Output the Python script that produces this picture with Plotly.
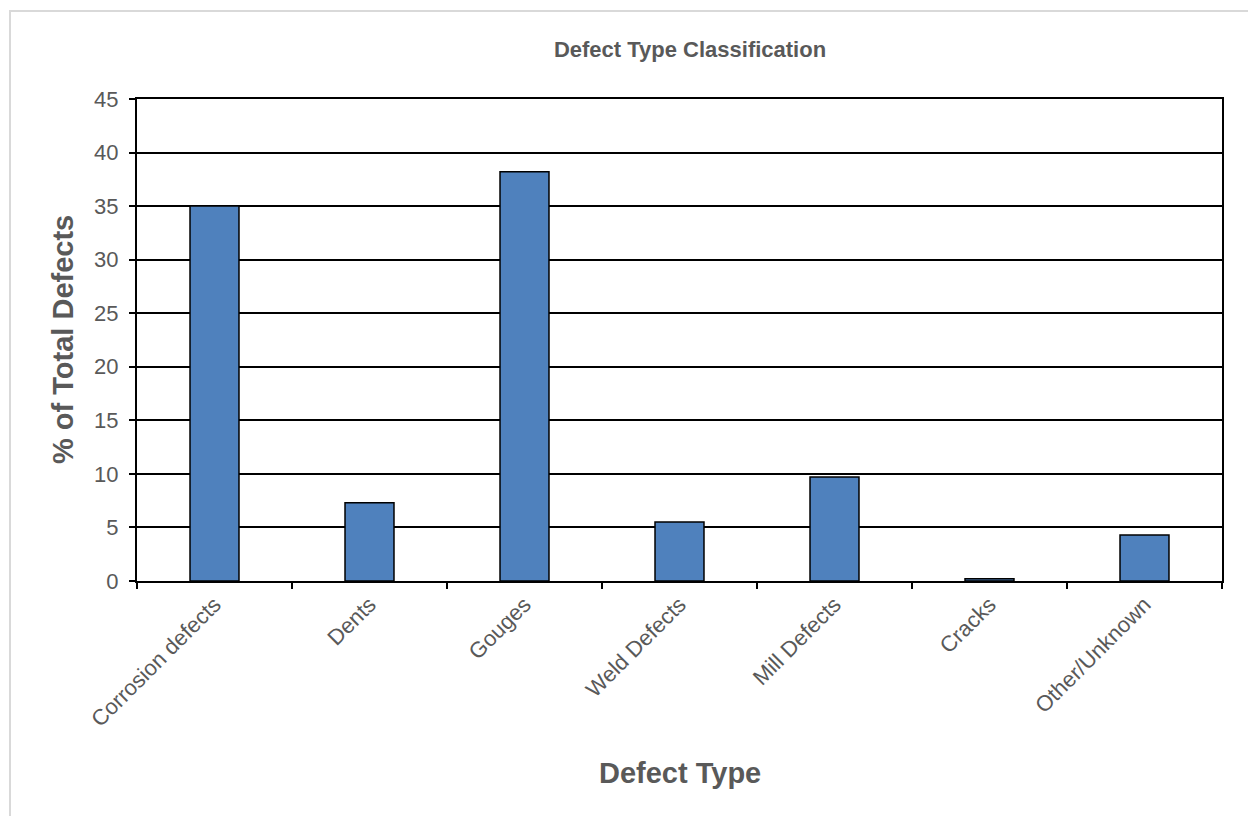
import plotly.graph_objects as go

# Share of total defects by defect type (%)
categories = ["Corrosion defects", "Dents", "Gouges", "Weld Defects",
              "Mill Defects", "Cracks", "Other/Unknown"]
percent_of_total = [35.0, 7.3, 38.2, 5.5, 9.7, 0.2, 4.3]
y_ticks = [0, 5, 10, 15, 20, 25, 30, 35, 40, 45]

W, H = 1248, 816
L, R, T, B = 137, 26, 99, 235
plot_w = W - L - R
plot_h = H - T - B

FONT = "Liberation Sans, Arial, sans-serif"
GREY = "#595959"

fig = go.Figure(
    go.Bar(
        x=categories,
        y=percent_of_total,
        width=0.316,
        marker=dict(color="#4f81bd", line=dict(color="black", width=1.5)),
    )
)

def px_x(p):
    return (p - L) / plot_w

def px_y(p):
    return 1 - (p - T) / plot_h

fig.update_layout(
    width=W,
    height=H,
    margin=dict(l=L, r=R, t=T, b=B, pad=0),
    paper_bgcolor="white",
    plot_bgcolor="white",
    font=dict(family=FONT, color=GREY),
    showlegend=False,
    title=dict(
        text="<b>Defect Type Classification</b>",
        x=690 / W, xanchor="center",
        y=1 - 49 / H, yanchor="middle",
        font=dict(size=22, color=GREY, family=FONT),
    ),
    xaxis=dict(
        type="category",
        showline=True, linecolor="black", linewidth=2, mirror=True,
        ticks="outside", tickson="boundaries", ticklen=6,
        tickcolor="black", tickwidth=2,
        tickangle=-45,
        tickfont=dict(size=22, color=GREY, family=FONT),
        showgrid=False,
    ),
    yaxis=dict(
        range=[0, 45],
        tickvals=y_ticks,
        showline=True, linecolor="black", linewidth=2, mirror=True,
        ticks="outside", ticklen=6, tickcolor="black", tickwidth=2,
        ticklabelstandoff=6,
        tickfont=dict(size=22, color=GREY, family=FONT),
        showgrid=True, gridcolor="black", gridwidth=1.5,
        zeroline=False,
    ),
    shapes=[
        dict(
            type="rect", xref="paper", yref="paper",
            x0=px_x(10), x1=px_x(1260), y0=px_y(830), y1=px_y(11),
            line=dict(color="#d9d9d9", width=2),
            fillcolor="rgba(0,0,0,0)", layer="below",
        )
    ],
    annotations=[
        dict(
            text="<b>Defect Type</b>", xref="paper", yref="paper",
            x=0.5, y=px_y(773), xanchor="center", yanchor="middle",
            showarrow=False, font=dict(size=29, color=GREY, family=FONT),
        ),
        dict(
            text="<b>% of Total Defects</b>", xref="paper", yref="paper",
            x=px_x(63), y=0.5, xanchor="center", yanchor="middle",
            textangle=-90,
            showarrow=False, font=dict(size=29, color=GREY, family=FONT),
        ),
    ],
)

fig.write_html("out.html")
